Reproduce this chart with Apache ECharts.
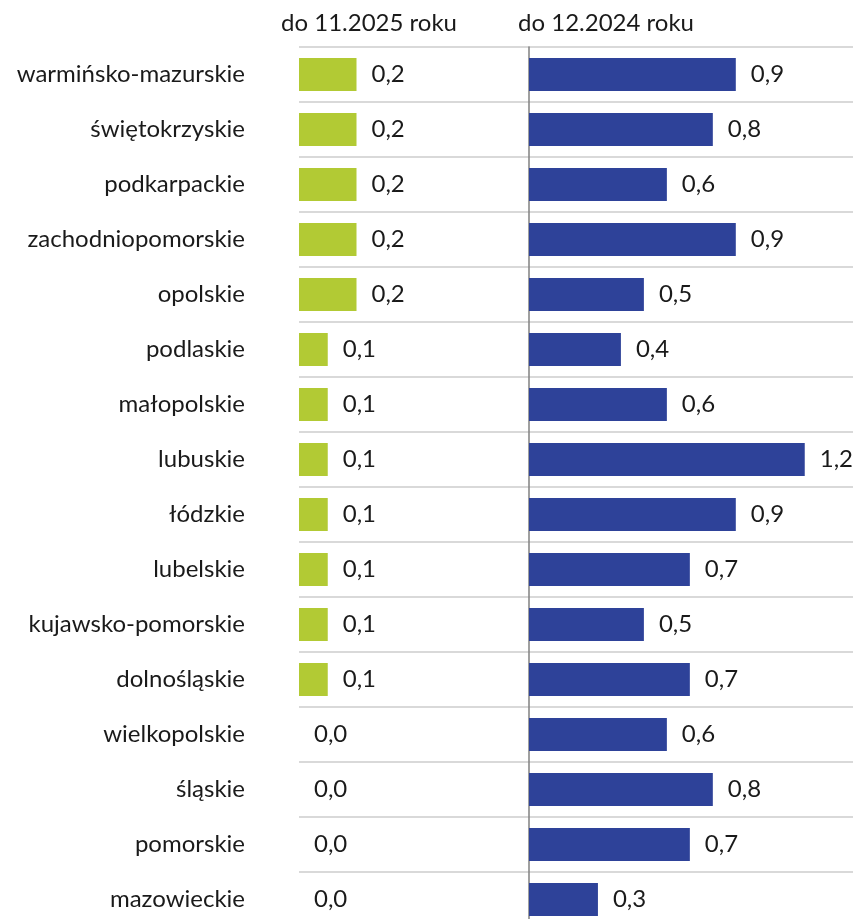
<!DOCTYPE html>
<html>
<head>
    <meta charset="utf-8">
    <title>ECharts</title>
    <script src="https://cdn.jsdelivr.net/npm/echarts@6/dist/echarts.min.js"></script>
    <style>
        html, body { margin: 0; padding: 0; background: #fff; }
    </style>
</head>
<body>
<div id="main" style="width: 853px;height:919px;"></div>
<script type="text/javascript">
    // województwa, od góry do dołu
    var regions = ['warmińsko-mazurskie', 'świętokrzyskie', 'podkarpackie', 'zachodniopomorskie',
        'opolskie', 'podlaskie', 'małopolskie', 'lubuskie', 'łódzkie', 'lubelskie',
        'kujawsko-pomorskie', 'dolnośląskie', 'wielkopolskie', 'śląskie', 'pomorskie', 'mazowieckie'];
    var values2025 = [0.2, 0.2, 0.2, 0.2, 0.2, 0.1, 0.1, 0.1, 0.1, 0.1, 0.1, 0.1, 0.0, 0.0, 0.0, 0.0];
    var values2024 = [0.9, 0.8, 0.6, 0.9, 0.5, 0.4, 0.6, 1.2, 0.9, 0.7, 0.5, 0.7, 0.6, 0.8, 0.7, 0.3];
    var headers = ['do 11.2025 roku', 'do 12.2024 roku'];

    var font = 'Lato';
    var txt = '#1a1a1a';

    function fmt(p) {
        return p.value.toFixed(1).replace('.', ',');
    }

    var myChart = echarts.init(document.getElementById('main'));

    var catAxis = function (idx, showLabel, showLine) {
        return {
            type: 'category',
            gridIndex: idx,
            data: regions,
            inverse: true,
            axisTick: { show: false },
            axisLine: { show: showLine, lineStyle: { color: '#808080', width: 1.5 } },
            axisLabel: {
                show: showLabel,
                margin: 54,
                color: txt,
                fontFamily: font,
                fontSize: 24
            },
            splitLine: { show: true, lineStyle: { color: '#d9d9d9', width: 2 } }
        };
    };

    var option = {
        animation: false,
        backgroundColor: '#fff',
        graphic: [
            { type: 'text', x: 369, y: 23, style: { text: headers[0], align: 'center', verticalAlign: 'middle', fill: txt, font: '24px Lato' } },
            { type: 'text', x: 606, y: 23, style: { text: headers[1], align: 'center', verticalAlign: 'middle', fill: txt, font: '24px Lato' } }
        ],
        grid: [
            { left: 299, top: 47, width: 230, height: 880, outerBoundsMode: 'none' },
            { left: 529, top: 47, width: 324, height: 880, outerBoundsMode: 'none' }
        ],
        xAxis: [
            { type: 'value', gridIndex: 0, min: 0, max: 0.8, show: false },
            { type: 'value', gridIndex: 1, min: 0, max: 1.41, show: false }
        ],
        yAxis: [catAxis(0, true, false), catAxis(1, false, true)],
        series: [{
            type: 'bar',
            xAxisIndex: 0,
            yAxisIndex: 0,
            data: values2025,
            barWidth: 33,
            itemStyle: { color: '#b2ca34' },
            label: { show: true, position: 'right', distance: 15, formatter: fmt, color: txt, fontFamily: font, fontSize: 24 }
        }, {
            type: 'bar',
            xAxisIndex: 1,
            yAxisIndex: 1,
            data: values2024,
            barWidth: 33,
            itemStyle: { color: '#2e4299' },
            label: { show: true, position: 'right', distance: 15, formatter: fmt, color: txt, fontFamily: font, fontSize: 24 }
        }]
    };

    myChart.setOption(option);
</script>
</body>
</html>
